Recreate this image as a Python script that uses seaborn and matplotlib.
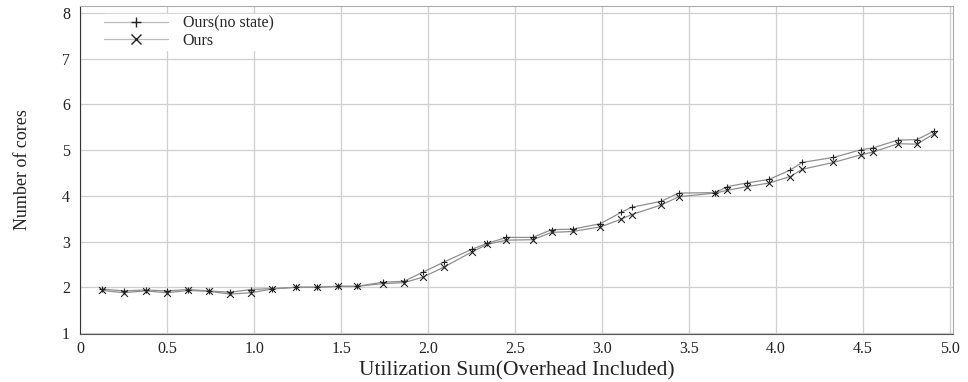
import pandas as pd
import matplotlib.pyplot as plt
import seaborn as sns
from matplotlib.lines import Line2D

# Values
util_sum = [0.125, 0.25, 0.375, 0.50, 0.62, 0.74, 0.86, 0.98, 1.10, 1.24,
            1.36, 1.48, 1.59, 1.74, 1.86, 1.97, 2.09, 2.25, 2.34, 2.45,
            2.60, 2.71, 2.83, 2.99, 3.11, 3.17, 3.34, 3.44, 3.65, 3.72,
            3.83, 3.96, 4.08, 4.15, 4.33, 4.49, 4.56, 4.70, 4.81, 4.91]
cores_no_state = [1.96, 1.92, 1.94, 1.92, 1.95, 1.92, 1.89, 1.95, 1.97, 2.00,
                  2.00, 2.02, 2.02, 2.11, 2.13, 2.33, 2.55, 2.83, 2.96, 3.09,
                  3.09, 3.26, 3.27, 3.39, 3.64, 3.75, 3.88, 4.06, 4.07, 4.20,
                  4.28, 4.36, 4.56, 4.73, 4.84, 5.01, 5.05, 5.22, 5.23, 5.42]
cores_ours = [1.93, 1.88, 1.92, 1.88, 1.93, 1.91, 1.85, 1.88, 1.96, 2.00,
              2.00, 2.02, 2.02, 2.08, 2.10, 2.22, 2.44, 2.77, 2.94, 3.03,
              3.04, 3.20, 3.22, 3.32, 3.49, 3.59, 3.80, 3.98, 4.06, 4.12,
              4.20, 4.28, 4.42, 4.58, 4.73, 4.90, 4.96, 5.14, 5.13, 5.36]
series_names = ['Ours(no state)', 'Ours']
series_markers = {'Ours(no state)': '+', 'Ours': 'x'}

data = pd.concat([
    pd.DataFrame({'util': util_sum, 'cores': cores_no_state, 'method': series_names[0]}),
    pd.DataFrame({'util': util_sum, 'cores': cores_ours, 'method': series_names[1]}),
])

sns.set_style('whitegrid', {'grid.color': '#cfcfcf', 'axes.edgecolor': '#555555'})
plt.rcParams['font.family'] = ['Liberation Serif', 'DejaVu Serif']

fig = plt.figure(figsize=(9.68, 3.82), dpi=100)
ax = fig.add_axes([0.083, 0.126, 0.902, 0.858])

# gray connecting lines
sns.lineplot(data=data, x='util', y='cores', units='method', estimator=None,
             color='#8f8f8f', linewidth=0.9, ax=ax, legend=False, sort=False)
# black markers
for name in series_names:
    sub = data[data['method'] == name]
    sns.scatterplot(x=sub['util'], y=sub['cores'], marker=series_markers[name],
                    color='#222222', s=24, linewidth=0.8, ax=ax, legend=False, zorder=3)

ax.set_xlim(0, 5.02)
ax.set_ylim(0.98, 8.15)
ax.set_xticks([0, 0.5, 1.0, 1.5, 2.0, 2.5, 3.0, 3.5, 4.0, 4.5, 5.0])
ax.set_xticklabels(['0', '0.5', '1.0', '1.5', '2.0', '2.5', '3.0', '3.5', '4.0', '4.5', '5.0'])
ax.set_yticks(range(1, 9))
ax.tick_params(axis='both', labelsize=11.5, colors='#222222', length=4, width=0.8)
ax.tick_params(axis='x', length=3, pad=2)
ax.set_xlabel('Utilization Sum(Overhead Included)', fontsize=15.5, labelpad=3, color='#222222')
ax.set_ylabel('Number of cores', fontsize=13, labelpad=22, color='#222222')
ax.grid(True, linewidth=0.9)

for side in ['top', 'right']:
    ax.spines[side].set_color('#aaaaaa')
ax.spines['left'].set_color('#333333')
ax.spines['bottom'].set_color('#555555')

handles = [Line2D([], [], color='#bbbbbb', linewidth=0.9, marker=series_markers[n],
                  markeredgecolor='#222222', markersize=7) for n in series_names]
leg = ax.legend(handles, series_names, loc='upper left', bbox_to_anchor=(0.022, 0.985),
                handlelength=4.0, frameon=True, fontsize=11.5, borderpad=0.1,
                labelspacing=0.05, handletextpad=0.9, borderaxespad=0.2)
leg.get_frame().set_edgecolor('white')
leg.get_frame().set_alpha(1.0)

fig.savefig('out.png', dpi=100)
